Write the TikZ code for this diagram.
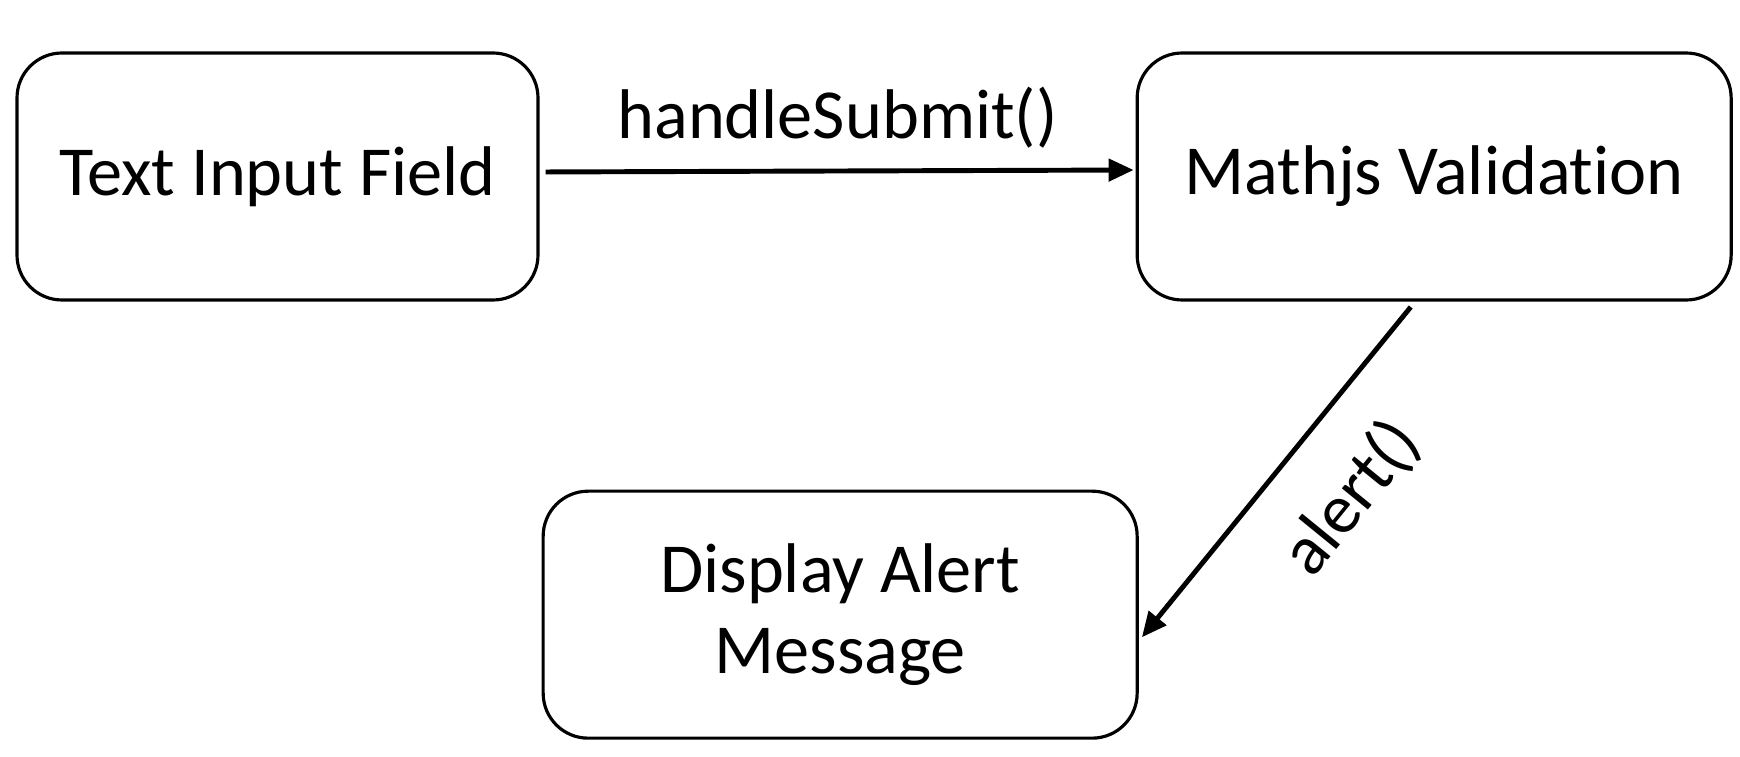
\documentclass[tikz,border=0pt]{standalone}
\usepackage{fontspec}
\setmainfont{Carlito}[Ligatures=NoCommon]
\usetikzlibrary{positioning,arrows.meta}
\tikzset{
  round box/.style={
    draw=black,
    line width=0.9pt,
    rounded corners=0.45cm,
    minimum width={#1cm},
    minimum height={2.47cm},
    align=center,
    font=\fontsize{20}{23}\selectfont,
  },
  call arrow/.style={
    line width=1.4pt,
    -{Triangle[length=0.25cm,width=0.22cm]},
  },
  call label/.style={
    font=\fontsize{20}{23}\selectfont,
  }
}

\begin{document}
\begin{tikzpicture}
        \useasboundingbox (0,0) rectangle (17.4,7.56);
        \node [round box=5.21] (input) at (2.775,5.795) {Text Input Field};
        \node [round box=5.94, right=5.96cm of input] (mathjs) {Mathjs Validation};
        \node [round box=5.94, below right=1.88cm and 0.02cm of input.south east] (alert) {Display Alert\\Message};

        \draw [call arrow, shorten <=0.06cm, shorten >=0.02cm] ([yshift=0.045cm]input.east)
          -- node [call label, above=0.09cm] {handleSubmit()} ([yshift=0.065cm]mathjs.west);
        \draw [call arrow, shorten <=0.07cm, shorten >=0.05cm] ([xshift=-0.19cm]mathjs.south)
          -- node [call label, pos=0.44, sloped, below=0.3cm] {alert()} ([yshift=-0.265cm]alert.east);
      \end{tikzpicture}
\end{document}
